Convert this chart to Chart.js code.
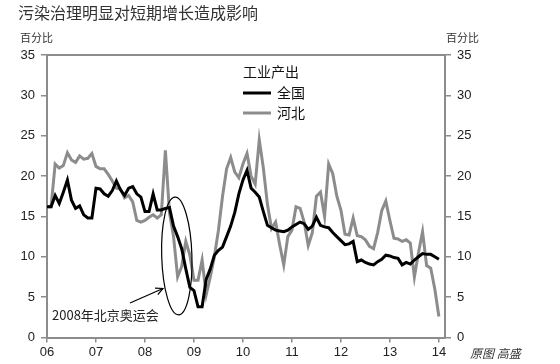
<!DOCTYPE html>
<html>
<head>
<meta charset="utf-8">
<script src="https://cdn.jsdelivr.net/npm/chart.js@4.4.1/dist/chart.umd.min.js"></script>
<style>
  html, body { margin: 0; padding: 0; background: #fff; }
  #wrap { width: 560px; height: 364px; position: relative; }
</style>
</head>
<body>
<div id="wrap"><canvas id="chart" width="560" height="364"></canvas></div>
<script>
// monthly, Jan 2006 .. Jan 2014
var startYear = 2006;
var months = [];
for (var i = 0; i < 97; i++) {
    months.push((startYear + Math.floor(i / 12)) + '-' + String(i % 12 + 1).padStart(2, '0'));
}

// 工业产出 同比 (%)
var quanguo = [
    16.2, 16.2, 17.6, 16.6, 18.0, 19.5, 17.0, 16.0, 16.3, 15.2, 14.8, 14.8,
    18.5, 18.4, 17.8, 17.5, 18.2, 19.4, 18.3, 17.6, 18.5, 18.7, 17.8, 17.4,
    15.6, 15.6, 17.8, 15.8, 15.8, 16.0, 16.1, 13.8, 12.5, 11.0, 8.5, 6.2,
    5.8, 3.8, 3.8, 7.2, 8.5, 10.2, 10.8, 11.2, 12.5, 13.8, 15.5, 17.8,
    19.5, 20.7, 18.5, 18.0, 17.4, 15.6, 13.9, 13.6, 13.3, 13.2, 13.1, 13.3,
    13.7, 14.0, 14.3, 14.1, 13.4, 13.8, 14.9, 13.9, 13.7, 13.6, 13.0, 12.5,
    12.0, 11.5, 11.6, 11.9, 9.4, 9.6, 9.3, 9.1, 9.0, 9.4, 9.7, 10.2,
    10.1, 9.9, 9.8, 9.0, 9.3, 9.1, 9.6, 10.0, 10.4, 10.3, 10.3, 10.0,
    9.7
];
var hebei = [
    16.2, 16.2, 21.5, 21.0, 21.3, 22.9, 22.0, 21.7, 22.5, 22.1, 22.2, 22.8,
    21.2, 20.9, 20.9, 20.2, 19.4, 18.5, 18.4, 17.3, 17.6, 16.8, 14.5, 14.3,
    14.5, 14.9, 15.2, 14.8, 15.2, 23.2, 15.5, 12.5, 7.5, 8.8, 11.9, 10.2,
    7.1, 7.1, 9.6, 5.3, 7.5, 10.0, 13.3, 17.5, 20.9, 22.3, 20.5, 19.8,
    21.5, 22.8, 20.0, 19.0, 24.5, 21.0, 16.5, 13.5, 14.3, 11.5, 9.0, 12.5,
    13.3, 16.2, 16.0, 14.3, 11.4, 13.0, 17.5, 18.0, 15.0, 21.5, 20.3, 17.5,
    15.8, 12.8, 12.7, 14.8, 12.6, 12.5, 12.1, 11.3, 11.0, 13.0, 15.7, 16.9,
    14.5, 12.3, 12.2, 11.9, 12.1, 11.7, 7.5, 10.5, 13.1, 8.9, 8.6, 6.0,
    2.6
];

var yTicks = [0, 5, 10, 15, 20, 25, 30, 35];

// 奥运会标注: 椭圆中心(月序号, 数值) 与半径
var olympicLabel = '2008年北京奥运会';
var ellipseCenter = { m: 31.8, v: 10.1 };
var ellipseRadius = { m: 3.7, v: 7.3 };

function pts(arr) {
    return arr.map(function (v, i) { return { x: i, y: v }; });
}

var cjk = '"Noto Sans CJK SC", "Noto Sans", sans-serif';
var latin = '"Liberation Sans", Arial, sans-serif';

var extras = {
    id: 'extras',
    afterDraw: function (chart) {
        var c = chart.ctx, a = chart.chartArea;
        var xs = chart.scales.x, ys = chart.scales.y;
        c.save();
        // top frame line
        c.strokeStyle = '#8c8c8c';
        c.lineWidth = 2;
        c.beginPath();
        c.moveTo(a.left - 1, a.top);
        c.lineTo(a.right + 1, a.top);
        c.stroke();

        // title
        c.fillStyle = '#333';
        c.textBaseline = 'middle';
        c.textAlign = 'left';
        c.font = '16px ' + cjk;
        c.fillText('污染治理明显对短期增长造成影响', 18, 12.5);

        // axis unit labels
        c.font = '11px ' + cjk;
        c.fillStyle = '#333';
        c.fillText('百分比', 20, 38);
        c.fillText('百分比', 446, 38);

        // legend
        c.font = '14px ' + cjk;
        c.fillStyle = '#111';
        c.fillText('工业产出', 243, 72);
        c.lineWidth = 3;
        c.strokeStyle = '#000';
        c.beginPath(); c.moveTo(243, 93); c.lineTo(271, 93); c.stroke();
        c.fillText('全国', 277, 93);
        c.strokeStyle = '#8c8c8c';
        c.beginPath(); c.moveTo(243, 113); c.lineTo(271, 113); c.stroke();
        c.fillText('河北', 277, 113);

        // ellipse around 2008
        var cx = xs.getPixelForValue(ellipseCenter.m);
        var cy = ys.getPixelForValue(ellipseCenter.v);
        var rx = xs.getPixelForValue(ellipseCenter.m + ellipseRadius.m) - cx;
        var ry = cy - ys.getPixelForValue(ellipseCenter.v + ellipseRadius.v);
        c.strokeStyle = '#000';
        c.lineWidth = 1.2;
        c.beginPath();
        c.ellipse(cx, cy, rx, ry, -0.03, 0, Math.PI * 2);
        c.stroke();

        // arrow
        var x0 = 130, y0 = 303, x1 = 163, y1 = 288.5;
        var ang = Math.atan2(y1 - y0, x1 - x0);
        c.lineWidth = 1.2;
        c.beginPath(); c.moveTo(x0, y0); c.lineTo(x1, y1); c.stroke();
        c.beginPath();
        c.moveTo(x1 - 8 * Math.cos(ang - 0.45), y1 - 8 * Math.sin(ang - 0.45));
        c.lineTo(x1, y1);
        c.lineTo(x1 - 8 * Math.cos(ang + 0.45), y1 - 8 * Math.sin(ang + 0.45));
        c.stroke();

        c.font = '13px ' + cjk;
        c.fillStyle = '#222';
        c.fillText(olympicLabel, 52, 315);

        // source
        c.font = 'italic 12px ' + cjk;
        c.fillStyle = '#333';
        c.fillText('原图 高盛', 470, 353);
        c.restore();
    }
};

var ctx = document.getElementById('chart').getContext('2d');
var chart = new Chart(ctx, {
    type: 'line',
    data: {
        datasets: [{
            label: '全国',
            data: pts(quanguo),
            borderColor: '#000',
            borderWidth: 3,
            pointRadius: 0,
            tension: 0,
            order: 1
        }, {
            label: '河北',
            data: pts(hebei),
            borderColor: '#8c8c8c',
            borderWidth: 3,
            pointRadius: 0,
            tension: 0,
            order: 2
        }]
    },
    options: {
        responsive: false,
        animation: false,
        layout: { padding: { top: 55, left: 0, right: 0, bottom: 0 } },
        plugins: {
            legend: { display: false },
            tooltip: { enabled: false }
        },
        scales: {
            x: {
                type: 'linear',
                min: 0,
                max: 97.5,
                afterFit: function (s) { s.height = 26.5; },
                afterBuildTicks: function (s) {
                    s.ticks = [0, 12, 24, 36, 48, 60, 72, 84, 96].map(function (v) { return { value: v }; });
                },
                ticks: {
                    font: { family: latin, size: 13 },
                    color: '#222',
                    padding: 2,
                    maxRotation: 0,
                    callback: function (v) { return String(6 + v / 12).padStart(2, '0'); }
                },
                grid: { drawOnChartArea: false, tickLength: 5, color: '#8c8c8c', lineWidth: 1.5 },
                border: { color: '#8c8c8c', width: 2 }
            },
            y: {
                position: 'left',
                min: 0,
                max: 35,
                afterFit: function (s) { s.width = 47; },
                afterBuildTicks: function (s) {
                    s.ticks = yTicks.map(function (v) { return { value: v }; });
                },
                ticks: { font: { family: latin, size: 13 }, color: '#222', padding: 6 },
                grid: { drawOnChartArea: false, tickLength: 6, color: '#8c8c8c', lineWidth: 1.5 },
                border: { color: '#8c8c8c', width: 2 }
            },
            y2: {
                position: 'right',
                min: 0,
                max: 35,
                afterFit: function (s) { s.width = 115; },
                afterBuildTicks: function (s) {
                    s.ticks = yTicks.map(function (v) { return { value: v }; });
                },
                ticks: { font: { family: latin, size: 13 }, color: '#222', padding: 6 },
                grid: { drawOnChartArea: false, tickLength: 6, color: '#8c8c8c', lineWidth: 1.5 },
                border: { color: '#8c8c8c', width: 2 }
            }
        }
    },
    plugins: [extras]
});
</script>
</body>
</html>
